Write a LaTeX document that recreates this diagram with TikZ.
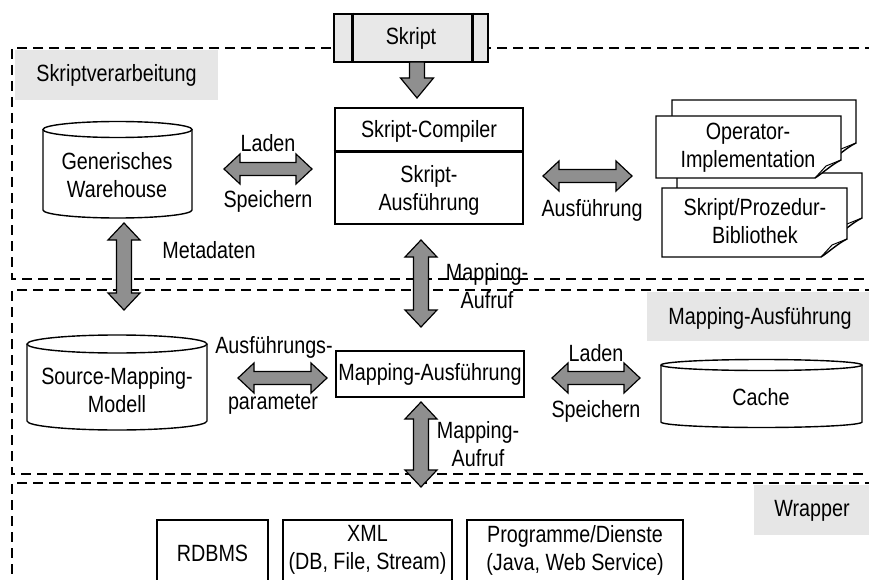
\documentclass[tikz,border=0pt]{standalone}
\usepackage{fontspec}
\setmainfont[FakeStretch=0.84]{Liberation Sans}
\usetikzlibrary{calc}
\definecolor{arrgray}{RGB}{143,143,143}
\definecolor{labgray}{RGB}{230,230,230}
\definecolor{skgray}{RGB}{232,232,232}
\tikzset{
  txt/.style={font=\fontsize{23.5}{28}\selectfont, inner sep=0pt, align=center},
  thickbox/.style={draw, line width=2.6pt, fill=white, inner sep=0pt},
  sect/.style={line width=2.4pt, dash pattern=on 10pt off 6pt},
  fatarr/.style={draw, fill=arrgray, line width=1.2pt, line join=miter},
  cylst/.style={line width=1.4pt},
  docst/.style={draw, fill=white, line width=1.4pt},
}
% horizontal double block arrow between two named points
\newcommand\fatH[2]{\draw[fatarr] let \p1=(#1), \p2=(#2) in
  (\p1) -- (\x1+16pt,\y1+15pt) -- (\x1+16pt,\y1+6.5pt) -- (\x2-16pt,\y1+6.5pt)
  -- (\x2-16pt,\y1+15pt) -- (\p2) -- (\x2-16pt,\y1-15pt) -- (\x2-16pt,\y1-6.5pt)
  -- (\x1+16pt,\y1-6.5pt) -- (\x1+16pt,\y1-15pt) -- cycle;}
% vertical double block arrow (first point on top)
\newcommand\fatV[2]{\draw[fatarr] let \p1=(#1), \p2=(#2) in
  (\p1) -- (\x1+16pt,\y1-17pt) -- (\x1+7.5pt,\y1-17pt) -- (\x1+7.5pt,\y2+17pt)
  -- (\x1+16pt,\y2+17pt) -- (\p2) -- (\x1-16pt,\y2+17pt) -- (\x1-7.5pt,\y2+17pt)
  -- (\x1-7.5pt,\y1-17pt) -- (\x1-16pt,\y1-17pt) -- cycle;}
% single downward block arrow
\newcommand\fatD[2]{\draw[fatarr] let \p1=(#1), \p2=(#2) in
  (\x1-7.5pt,\y1) -- (\x1+7.5pt,\y1) -- (\x1+7.5pt,\y2+20pt) -- (\x1+16.5pt,\y2+20pt)
  -- (\p2) -- (\x1-16.5pt,\y2+20pt) -- (\x1-7.5pt,\y2+20pt) -- cycle;}
% cylinder: cx, rx, ytop, ybottom, ry
\newcommand\cylshape[5]{%
  \draw[cylst] (#1-#2,#3) -- (#1-#2,#4) arc[start angle=180, end angle=360, x radius=#2pt, y radius=#5pt] -- (#1+#2,#3);
  \draw[cylst] (#1,#3) ellipse [x radius=#2pt, y radius=#5pt];}
% document page with curled corner: x1,y1,x2,y2
\newcommand\docpage[4]{%
  \draw[docst] (#1,#2) -- (#3,#2) -- (#3,#4-18) .. controls (#3-10,#4-13) and (#3-18,#4-5) .. (#3-26,#4) -- (#1,#4) -- cycle;
  \draw[line width=1pt] (#3-26,#4) -- (#3-15,#4-12) -- (#3,#4-18);}
\begin{document}
\begin{tikzpicture}[x=1pt, y=-1pt]
\path[use as bounding box] (0,0) rectangle (869,580);
\clip (0,0) rectangle (869,580);
% section labels (grey)
\node[txt, fill=labgray, minimum width=203pt, minimum height=50pt] (lab1) at (116.5,75) {Skriptverarbeitung};
\fill[labgray] (647,292) rectangle (869,341);
\node[txt] (lab2) at (760,318) {Mapping-Ausführung};
\fill[labgray] (754,485) rectangle (869,535);
\node[txt] (lab3) at (812,511) {Wrapper};
% dashed sections
\draw[sect] (875,48) -- (12,48) -- (12,279) -- (875,279);
\draw[sect] (875,290) -- (12,290) -- (12,474) -- (875,474);
\draw[sect] (875,483) -- (12,483) -- (12,590);
% Skript box
\node[thickbox, fill=skgray, minimum width=154pt, minimum height=48pt] (skript) at (411,38) {};
\draw[line width=2.6pt] ([xshift=20pt]skript.north west) -- ([xshift=20pt]skript.south west);
\draw[line width=2.6pt] ([xshift=-17pt]skript.north east) -- ([xshift=-17pt]skript.south east);
\node[txt] (skriptT) at (411,38) {Skript};
% Skript compiler
\node[thickbox, minimum width=188pt, minimum height=116pt] (comp) at (429,166) {};
\draw[line width=2.6pt] ([yshift=-45pt]comp.north west) -- ([yshift=-45pt]comp.north east);
\node[txt] (compT) at (429,131) {Skript-Compiler};
\node[txt] (compA) at (429,190) {Skript-\\Ausführung};
% cylinders
\cylshape{117.5}{74.5}{129.5}{210}{8}
\node[txt] (wh) at (117,175) {Generisches\\Warehouse};
\cylshape{117}{90}{344}{421}{9}
\node[txt] (smm) at (117,390) {Source-Mapping-\\Modell};
\cylshape{761.5}{100.5}{365}{422}{5.5}
\node[txt] (cache) at (761,397) {Cache};
% documents
\docpage{672}{100}{856}{161}
\docpage{677}{173}{862}{236}
\docpage{656}{116}{841}{178}
\docpage{662}{188}{847}{257}
\node[txt] (op) at (748,148) {Operator-\\Implementation};
\node[txt] (lib) at (755,221) {Skript/Prozedur-\\Bibliothek};
% Mapping-Ausfuehrung box
\node[thickbox, minimum width=188pt, minimum height=46pt] (map) at (430,374) {};
\node[txt] (mapT) at (430,374) {Mapping-Ausführung};
% wrapper boxes
\node[thickbox, minimum width=111pt, minimum height=90pt] (rdb) at (212.5,565) {};
\node[txt] (rdbT) at (212.5,553) {RDBMS};
\node[thickbox, minimum width=169pt, minimum height=90pt] (xml) at (367.5,565) {};
\node[txt] (xmlT) at (367.5,550) {XML\\(DB, File, Stream)};
\node[thickbox, minimum width=216pt, minimum height=90pt] (prg) at (575,565) {};
\node[txt] (prgT) at (575,550) {Programme/Dienste\\(Java, Web Service)};
% arrow end points
\coordinate (d1s) at (417,62);  \coordinate (d1e) at (417,98);
\coordinate (a1s) at (224,169); \coordinate (a1e) at (312,169);
\coordinate (a2s) at (543,176); \coordinate (a2e) at (632,176);
\coordinate (a3s) at (238,378); \coordinate (a3e) at (327,378);
\coordinate (a4s) at (552,378); \coordinate (a4e) at (640,378);
\coordinate (v1s) at (124,223); \coordinate (v1e) at (124,310);
\coordinate (v2s) at (421,240); \coordinate (v2e) at (421,327);
\coordinate (v3s) at (421,402); \coordinate (v3e) at (421,487);
\fatD{d1s}{d1e}
\fatH{a1s}{a1e}
\fatH{a2s}{a2e}
\fatH{a3s}{a3e}
\fatH{a4s}{a4e}
\fatV{v1s}{v1e}
\fatV{v2s}{v2e}
\fatV{v3s}{v3e}
% arrow labels
\node[txt] (l1) at (268,143) {Laden};
\node[txt] (s1) at (268,201) {Speichern};
\node[txt] (ausf) at (592,210) {Ausführung};
\node[txt] (meta) at (209,250) {Metadaten};
\node[txt] (ma1) at (487,286) {Mapping-\\Aufruf};
\node[txt] (ap1) at (274,347) {Ausführungs-};
\node[txt] (ap2) at (273,404) {parameter};
\node[txt] (l2) at (596,353) {Laden};
\node[txt] (s2) at (596,411) {Speichern};
\node[txt] (ma2) at (478,444) {Mapping-\\Aufruf};
\end{tikzpicture}
\end{document}
